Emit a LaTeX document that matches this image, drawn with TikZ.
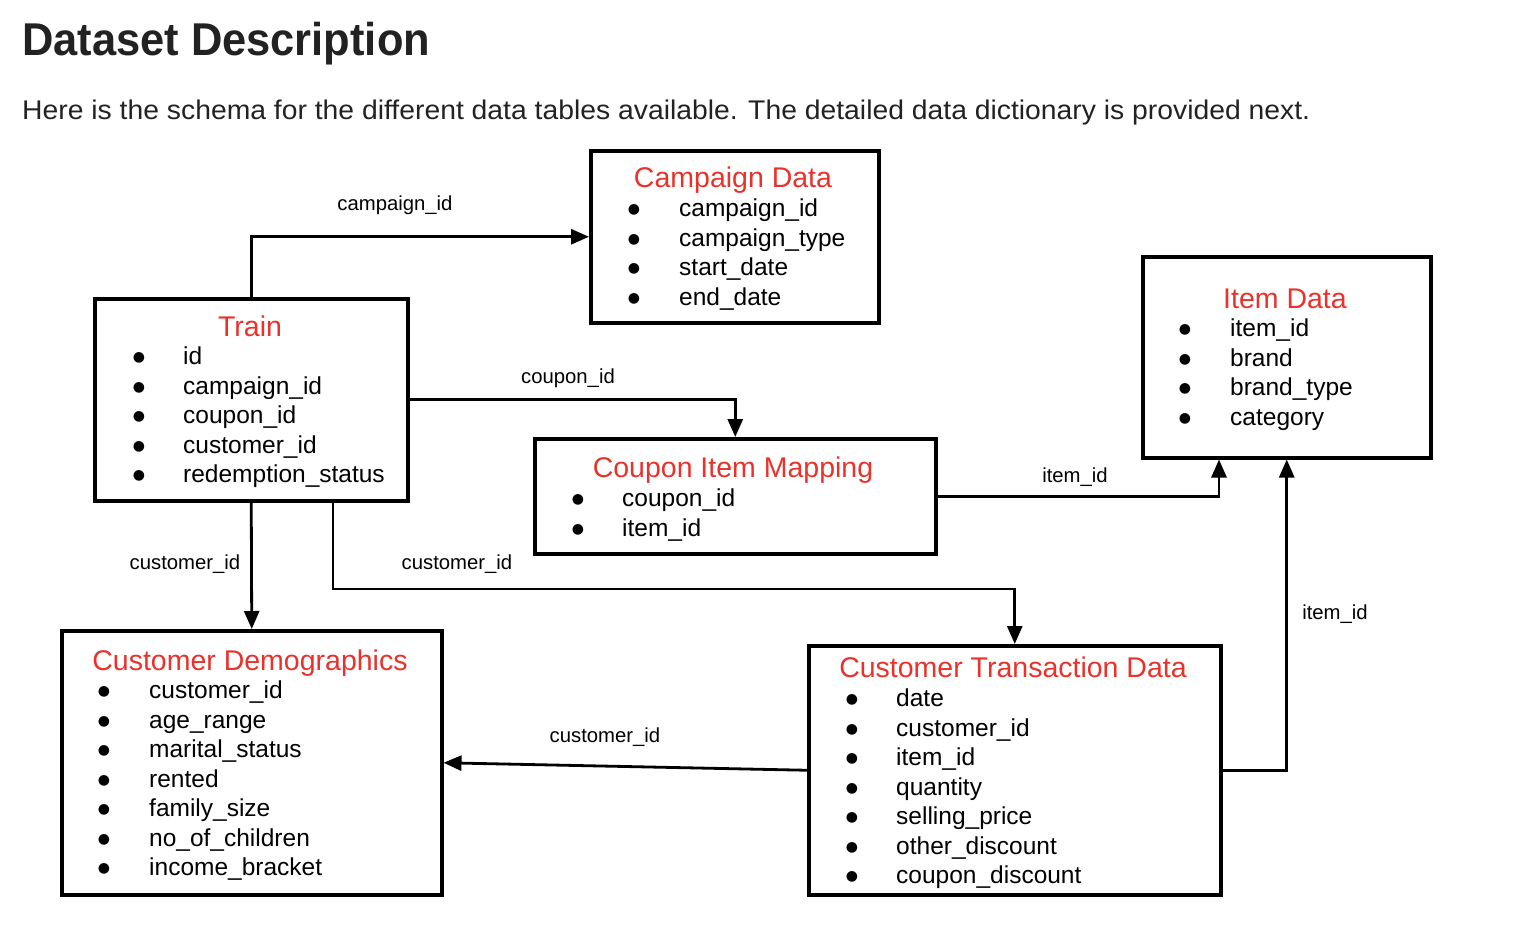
\documentclass[tikz,border=0pt]{standalone}
\usepackage{fontspec}
\setmainfont{Liberation Sans}
\newfontfamily\symfont{DejaVu Sans}
\usetikzlibrary{arrows.meta,calc}
\definecolor{ttlred}{HTML}{E8322B}
\definecolor{ink}{HTML}{222222}
\tikzset{
  tblbox/.style={draw=black, line width=3.5pt, anchor=north west, inner sep=0pt},
  conn/.style={draw=black, line width=2.8pt, -{Triangle[length=18pt,width=15pt]}},
  ttl/.style={text=ttlred, font=\fontsize{28.5}{34}\selectfont, inner sep=0pt, anchor=base},
  itm/.style={font=\fontsize{24.5}{29}\selectfont, anchor=mid west, inner sep=0pt},
  bul/.style={font=\symfont\fontsize{14}{17}\selectfont, anchor=center, inner sep=0pt},
  lbl/.style={font=\fontsize{20.3}{24}\selectfont, inner sep=0pt},
}
\newcommand\tbllist[5]{% prefix, bullet x, text x, first y, items
  \foreach \t [count=\i] in {#5}{
    \node[bul] (#1-b\i) at (#2,{#4+1+29.5*(\i-1)}) {●};
    \node[itm] (#1-t\i) at (#3,{#4+5+29.5*(\i-1)}) {\t};
  }}
\begin{document}
\begin{tikzpicture}[x=1pt,y=-1pt]
\useasboundingbox (0,0) rectangle (1524,938);

% heading
\node[anchor=base west, inner sep=0pt, text=ink] (title) at (22,55)
  {\resizebox{408pt}{\height}{\fontsize{46}{56}\selectfont\bfseries Dataset Description}};
\node[anchor=base west, inner sep=0pt, text=ink] (sub) at (22,119)
  {\resizebox{1288pt}{\height}{\fontsize{27}{32}\selectfont Here is the schema for the different data tables available. The detailed data dictionary is provided next.}};

% boxes
\node[tblbox, minimum width=288pt, minimum height=172pt] (camp) at (589,149) {};
\node[tblbox, minimum width=313pt, minimum height=202pt] (train) at (93,297) {};
\node[tblbox, minimum width=288pt, minimum height=201pt] (item) at (1141,255) {};
\node[tblbox, minimum width=401pt, minimum height=115pt] (cim) at (533,437) {};
\node[tblbox, minimum width=380pt, minimum height=264pt] (cd) at (60,629) {};
\node[tblbox, minimum width=412pt, minimum height=249pt] (ctd) at (807,644) {};

% titles
\node[ttl] (camp-ttl) at (733,187) {Campaign Data};
\node[ttl] (train-ttl) at (250,336) {Train};
\node[ttl] (item-ttl) at (1285,308) {Item Data};
\node[ttl] (cim-ttl) at (733,477) {Coupon Item Mapping};
\node[ttl] (cd-ttl) at (250,670) {Customer Demographics};
\node[ttl] (ctd-ttl) at (1013,677) {Customer Transaction Data};

% lists
\tbllist{camp}{634}{679}{209}{campaign\_id,campaign\_type,start\_date,end\_date}
\tbllist{train}{139}{183}{357}{id,campaign\_id,coupon\_id,customer\_id,redemption\_status}
\tbllist{item}{1185}{1230}{329}{item\_id,brand,brand\_type,category}
\tbllist{cim}{578}{622}{499}{coupon\_id,item\_id}
\tbllist{cd}{104}{149}{691}{customer\_id,age\_range,marital\_status,rented,family\_size,no\_of\_children,income\_bracket}
\tbllist{ctd}{852}{896}{699}{date,customer\_id,item\_id,quantity,selling\_price,other\_discount,coupon\_discount}

% connectors
\coordinate (itemin) at ($(item.south west)+(78,0)$);
\coordinate (trainout) at ($(train.south west)+(240,0)$);
\coordinate (bend) at (trainout |- 0,589);
\draw[conn] (train.north) |- (camp.west);
\draw[conn] (train.east) -| (cim.north);
\draw[conn] (cim.east) -| (itemin);
\draw[conn] (train.south) -- (cd.north);
\draw[conn] (trainout) -- (bend) -| (ctd.north);
\draw[conn] (ctd.east) -| (item.south);
\draw[conn] (ctd.west) -- (cd.east);

% connector labels
\node[lbl] (l1) at (395,205) {campaign\_id};
\node[lbl] (l2) at (568,378) {coupon\_id};
\node[lbl] (l3) at (1075,477) {item\_id};
\node[lbl] (l4) at (185,564) {customer\_id};
\node[lbl] (l5) at (457,564) {customer\_id};
\node[lbl] (l6) at (1335,614) {item\_id};
\node[lbl] (l7) at (605,737) {customer\_id};
\end{tikzpicture}
\end{document}
